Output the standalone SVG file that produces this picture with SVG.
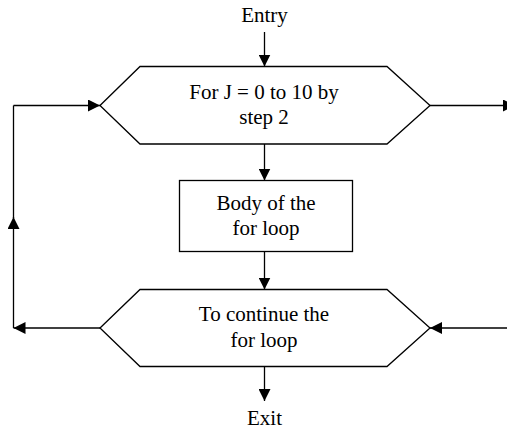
<svg xmlns="http://www.w3.org/2000/svg" width="507" height="432" viewBox="0 0 507 432">
<defs>
<marker id="ah" markerUnits="userSpaceOnUse" markerWidth="12" markerHeight="12" viewBox="0 0 12 12" refX="12" refY="6" orient="auto">
<path d="M0,0 L12,6 L0,12 Z" fill="#000"/>
</marker>
</defs>
<style>
.s{fill:#fff;stroke:#000;stroke-width:1.3}
.c{fill:none;stroke:#000;stroke-width:1.3}
.t{font-family:"Liberation Serif","Times New Roman",serif;font-size:21px;fill:#000;text-anchor:middle}
</style>
<rect width="507" height="432" fill="#fff"/>
<g id="connectors">
<line class="c" x1="264.5" y1="32" x2="264.5" y2="66.5" marker-end="url(#ah)"/>
<line class="c" x1="264.5" y1="144" x2="264.5" y2="180.5" marker-end="url(#ah)"/>
<line class="c" x1="264.5" y1="251.5" x2="264.5" y2="289.5" marker-end="url(#ah)"/>
<line class="c" x1="264.5" y1="366.5" x2="264.5" y2="401" marker-end="url(#ah)"/>
<line class="c" x1="430" y1="105.5" x2="515" y2="105.5" marker-end="url(#ah)"/>
<line class="c" x1="507" y1="328" x2="430" y2="328" marker-end="url(#ah)"/>
<line class="c" x1="100" y1="328" x2="13.5" y2="328" marker-end="url(#ah)"/>
<line class="c" x1="13.5" y1="328" x2="13.5" y2="217" marker-end="url(#ah)"/>
<line class="c" x1="13.5" y1="218" x2="13.5" y2="105.5"/>
<line class="c" x1="13.5" y1="105.5" x2="100" y2="105.5" marker-end="url(#ah)"/>
</g>
<g id="entry">
<text class="t" x="264.5" y="21.5">Entry</text>
</g>
<g id="for">
<polygon class="s" points="100,105.5 140,66.5 387,66.5 430,105.5 387,144 140,144"/>
<text class="t" x="264" y="99">For J = 0 to 10 by</text>
<text class="t" x="264" y="124">step 2</text>
</g>
<g id="body">
<rect class="s" x="179.5" y="180.5" width="173" height="71"/>
<text class="t" x="266" y="209.5">Body of the</text>
<text class="t" x="266" y="234.5">for loop</text>
</g>
<g id="continue">
<polygon class="s" points="100,328 140,289.5 387,289.5 430,328 387,366.5 140,366.5"/>
<text class="t" x="264" y="321">To continue the</text>
<text class="t" x="264" y="346.5">for loop</text>
</g>
<g id="exit">
<text class="t" x="264.5" y="425">Exit</text>
</g>
</svg>
